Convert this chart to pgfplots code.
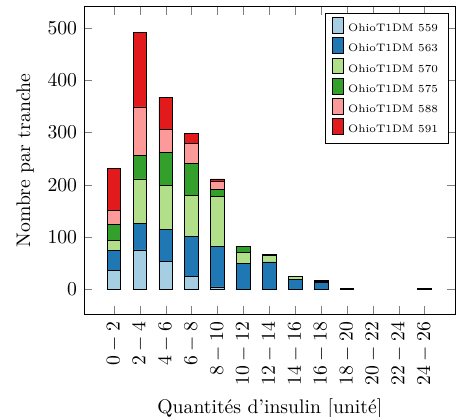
\documentclass[border=0pt]{standalone}
\usepackage{pgfplots}
\usepackage{pgfplotstable}
\pgfplotsset{compat=1.18}
\definecolor{cA}{RGB}{166,206,227}
\definecolor{cB}{RGB}{31,120,180}
\definecolor{cC}{RGB}{178,223,138}
\definecolor{cD}{RGB}{51,160,44}
\definecolor{cE}{RGB}{251,154,153}
\definecolor{cF}{RGB}{227,26,28}
\pgfplotstableread{
x  a   b   c   d   e   f
0  36  38  19  30  28  81
1  75  50  86  45  93  142
2  53  61  84  63  45  62
3  24  77  79  60  39  20
4  4   78  96  13  15  5
5  0   49  22  10  0   0
6  0   52  13  2   0   0
7  0   18  6   0   0   0
8  0   13  2   1   0   0
9  0   2   0   0   0   0
12 0   1   0   0   0   0
}\datatable
\begin{document}
\begin{tikzpicture}
\useasboundingbox (-42.7pt,-51.5pt) rectangle (193.7pt,160pt);
\begin{axis}[
  scale only axis,
  width=189pt, height=156.6pt,
  ybar stacked, bar width=0.53,
  xmin=-1.16, xmax=13.2, ymin=-49.2, ymax=541.2,
  xtick={0,...,12},
  xticklabels={$0-2$,$2-4$,$4-6$,$6-8$,$8-10$,$10-12$,$12-14$,$14-16$,$16-18$,$18-20$,$20-22$,$22-24$,$24-26$},
  x tick label style={rotate=90, anchor=east},
  ytick={0,100,...,500},
  xlabel={Quantités d'insulin [unité]},
  ylabel={Nombre par tranche},
  legend style={font=\fontsize{5.5}{6.5}\selectfont, at={(0.98,0.98)}, anchor=north east, row sep=-0.6pt},
  legend cell align=left,
]
\addplot[fill=cA, draw=black] table[x=x, y=a] {\datatable};
\addplot[fill=cB, draw=black] table[x=x, y=b] {\datatable};
\addplot[fill=cC, draw=black] table[x=x, y=c] {\datatable};
\addplot[fill=cD, draw=black] table[x=x, y=d] {\datatable};
\addplot[fill=cE, draw=black] table[x=x, y=e] {\datatable};
\addplot[fill=cF, draw=black] table[x=x, y=f] {\datatable};
\legend{OhioT1DM 559, OhioT1DM 563, OhioT1DM 570, OhioT1DM 575, OhioT1DM 588, OhioT1DM 591}
\end{axis}
\end{tikzpicture}
\end{document}
